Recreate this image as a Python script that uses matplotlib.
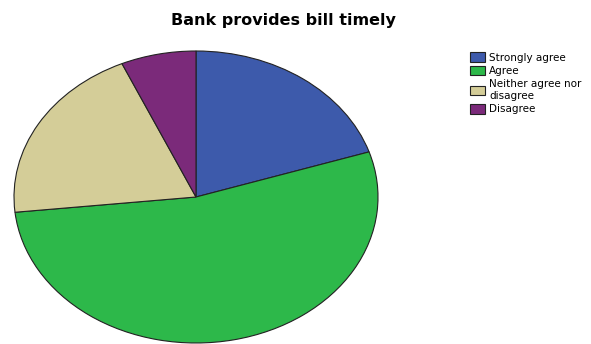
import matplotlib.pyplot as plt

# Responses to "Bank provides bill timely"
categories = ['Strongly agree', 'Agree', 'Neither agree nor\ndisagree', 'Disagree']
counts = [6, 16, 6, 2]
colors = ['#3d5aab', '#2db84a', '#d4cd98', '#7b2a7a']

plt.rcParams['font.family'] = ['DejaVu Sans']

fig = plt.figure(figsize=(5.91, 3.44), dpi=100)

# Pie axes stretched to an ellipse
ax = fig.add_axes([14 / 591, 1 / 344, 364 / 591, 292 / 344])
wedges, _ = ax.pie(counts, colors=colors, startangle=90, counterclock=False,
                   wedgeprops=dict(edgecolor='#222222', linewidth=0.8))
ax.set_aspect('auto')
ax.set_xlim(-1.0, 1.0)
ax.set_ylim(-1.0, 1.0)

fig.text(283 / 591, 1 - 20 / 344, 'Bank provides bill timely', ha='center', va='center',
         fontsize=11.5, fontweight='bold')

fig.legend(wedges, categories, loc='upper left', bbox_to_anchor=(466 / 591, 1 - 48 / 344),
           frameon=False, fontsize=7.5, handlelength=1.45, handleheight=1.05,
           handletextpad=0.35, labelspacing=0.3, borderaxespad=0)

fig.savefig('out.png', dpi=100)
